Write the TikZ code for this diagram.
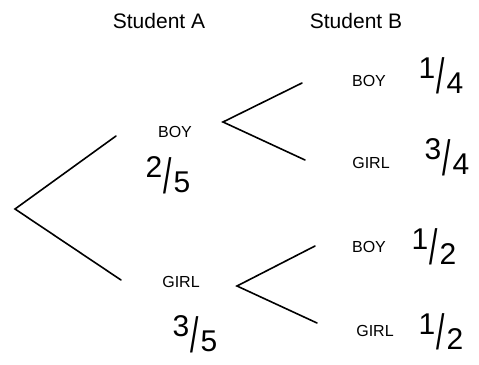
\documentclass[tikz,border=0pt]{standalone}
\usepackage{fontspec}
\usepackage{graphicx}
\setmainfont{Liberation Sans}
\usetikzlibrary{positioning}
% hand-written looking fraction: raised numerator, tall slash, low denominator
\newcommand{\handfrac}[2]{\raisebox{0.3em}{#1}\kern0.05em\raisebox{-0.22em}{\scalebox{1}[1.65]{/}}\kern0.05em\raisebox{-0.2em}{#2}}

\begin{document}
\begin{tikzpicture}[
      x=1pt, y=-1pt,
      head/.style={font=\fontsize{21}{24}\selectfont, inner sep=0pt},
      lab/.style={font=\fontsize{16}{18}\selectfont, inner sep=0pt},
      prob/.style={font=\fontsize{30}{34}\selectfont, inner sep=0pt},
      branch/.style={line width=1.6pt, line cap=round}
    ]
    \useasboundingbox (0,0) rectangle (479,364);

    \node[head] (studA) at (159,21) {Student A};
    \node[head] (studB) at (356,21) {Student B};

    % first pick
    \node[lab] (boyA)  at (175,132) {BOY};
    \node[lab] (girlA) at (181,282) {GIRL};
    \node[prob] (pboyA)  at (168,175) {\handfrac{2}{5}};
    \node[prob] (pgirlA) at (195,334) {\handfrac{3}{5}};

    % second pick
    \node[lab] (bb) at (369,81)  {BOY};
    \node[lab] (bg) at (371,163) {GIRL};
    \node[lab] (gb) at (369,247) {BOY};
    \node[lab] (gg) at (375,331) {GIRL};
    \node[prob] (pbb) at (441,76)  {\handfrac{1}{4}};
    \node[prob] (pbg) at (447,157) {\handfrac{3}{4}};
    \node[prob] (pgb) at (434,247) {\handfrac{1}{2}};
    \node[prob] (pgg) at (441,332) {\handfrac{1}{2}};

    \coordinate (root) at (15,209);
    \coordinate (endB) at (116,136);
    \coordinate (endG) at (121,280);
    \coordinate (forkB) at (223,122);
    \coordinate (forkG) at (237,286);
    \coordinate (endBB) at (302,83);
    \coordinate (endBG) at (305,160);
    \coordinate (endGB) at (315,246);
    \coordinate (endGG) at (317,323);

    \draw[branch] (endB) -- (root) -- (endG);
    \draw[branch] (endBB) -- (forkB) -- (endBG);
    \draw[branch] (endGB) -- (forkG) -- (endGG);
  \end{tikzpicture}
\end{document}
